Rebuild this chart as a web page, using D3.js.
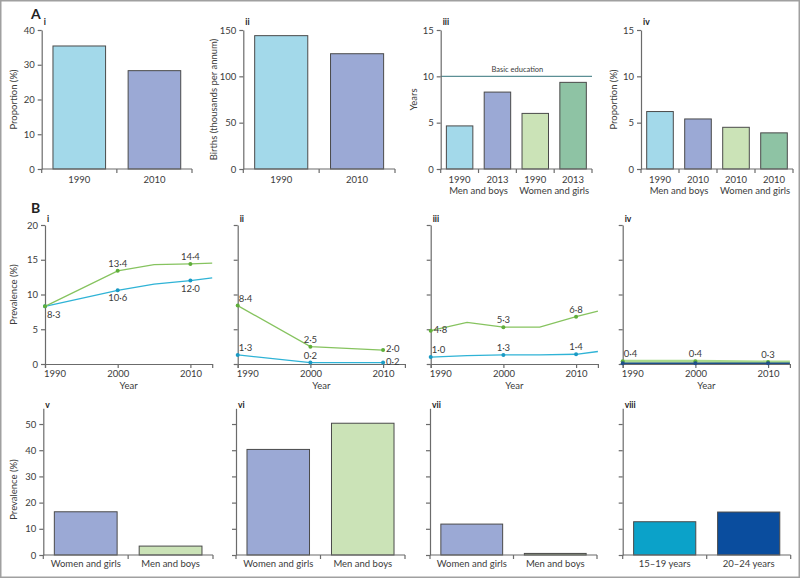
<!DOCTYPE html>
<html>
<head>
<meta charset="utf-8">
<script src="https://cdn.jsdelivr.net/npm/d3@7"></script>
<style>
body { margin: 0; background: #fff; }
text { font-family: Lato, "Open Sans", sans-serif; fill: #3b3b3b; }
</style>
</head>
<body>
<script>
// ---- panel A data
var aiYears = ["1990", "2010"];
var aiValues = [35.4, 28.3];
var aiiYears = ["1990", "2010"];
var aiiValues = [143.9, 124.4];
var aiiiYears = ["1990", "2013", "1990", "2013"];
var aiiiValues = [4.65, 8.3, 6.0, 9.35];
var aivYears = ["1990", "2010", "2010", "2010"];
var aivValues = [6.2, 5.4, 4.5, 3.9];
var sexGroups = ["Men and boys", "Women and girls"];
var basicEducation = 10;

// ---- panel B line data
var lineTicks = [1990, 2000, 2010];
var markerYears = [1990, 2000, 2010];
var biGreenYears = [1990, 2000, 2005, 2010, 2013];
var biGreen = [8.3, 13.4, 14.3, 14.4, 14.5];
var biBlueYears = [1990, 2000, 2005, 2010, 2013];
var biBlue = [8.3, 10.6, 11.5, 12.0, 12.4];
var biiYears = [1990, 2000, 2010];
var biiGreen = [8.4, 2.5, 2.0];
var biiBlue = [1.3, 0.2, 0.2];
var biiiYears = [1990, 1995, 2000, 2005, 2010, 2013];
var biiiGreen = [4.8, 6.0, 5.3, 5.3, 6.8, 7.6];
var biiiBlue = [1.0, 1.2, 1.3, 1.3, 1.4, 1.8];
var bivYears = [1990, 2000, 2010, 2013];
var bivGreen = [0.4, 0.4, 0.3, 0.3];
var bivBlue = [0.1, 0.1, 0.1, 0.1];

// ---- panel B bar data
var sexCats = ["Women and girls", "Men and boys"];
var bvValues = [16.5, 3.4];
var bviValues = [40.3, 50.3];
var bviiValues = [11.8, 0.6];
var ageCats = ["15–19 years", "20–24 years"];
var bviiiValues = [12.7, 16.4];

var cyanL = "#a3d9ea", lav = "#9ba9d5", greenL = "#cbe3b7", greenM = "#8ec3a4",
    cyanS = "#0ba2c9", navy = "#0a4d9e";
var axisCol = "#6b6b6b";

var svg = d3.select("body").append("svg")
    .attr("width", 800)
    .attr("height", 578);

svg.append("rect")
    .attr("x", 0.75).attr("y", 0.75)
    .attr("width", 798.5).attr("height", 576.5)
    .attr("fill", "none")
    .attr("stroke", "#a0a0a0")
    .attr("stroke-width", 1.5);

function styleAxis(sel) {
    sel.selectAll("path, line").attr("stroke", axisCol).attr("stroke-width", 1.2);
    sel.selectAll("text").attr("font-size", 9.5).attr("fill", "#3b3b3b")
        .style("font-family", "Lato, 'Open Sans', sans-serif");
}

function yLabel(g, txt, x, y) {
    g.append("text")
        .attr("transform", "translate(" + x + "," + y + ") rotate(-90)")
        .attr("text-anchor", "middle")
        .attr("font-size", 9.5)
        .text(txt);
}

function roman(g, txt, x, y) {
    g.append("text")
        .attr("x", x).attr("y", y)
        .attr("font-size", 8.5)
        .attr("font-weight", "bold")
        .style("fill", "#222")
        .text(txt);
}

function barPanel(c) {
    var g = svg.append("g");
    var n = c.values.length;
    var slot = d3.scaleBand().domain(d3.range(n)).range([c.x0, c.x1]);
    var y = d3.scaleLinear().domain(c.domain).range([c.y0, c.y1]);
    var bw = slot.bandwidth() * c.fill;

    if (c.basic != null) {
        g.append("line")
            .attr("x1", c.x0).attr("x2", c.x1)
            .attr("y1", y(c.basic)).attr("y2", y(c.basic))
            .attr("stroke", "#5b8f95").attr("stroke-width", 1.2);
        g.append("text")
            .attr("x", (c.x0 + c.x1) / 2 + 1).attr("y", y(c.basic) - 4)
            .attr("text-anchor", "middle").attr("font-size", 7.5)
            .text("Basic education");
    }

    g.selectAll("rect.bar")
        .data(c.values)
        .join("rect")
        .attr("class", "bar")
        .attr("x", function(d, i) { return slot(i) + (slot.bandwidth() - bw) / 2; })
        .attr("y", function(d) { return y(d); })
        .attr("width", bw)
        .attr("height", function(d) { return y(0) - y(d); })
        .attr("fill", function(d, i) { return c.colors[i]; })
        .attr("stroke", "#4a4a4a")
        .attr("stroke-width", 1);

    var ya = d3.axisLeft(y).tickValues(c.ticks).tickSize(4).tickSizeOuter(0).tickPadding(3);
    if (!c.tickLabels) ya.tickFormat("");
    g.append("g")
        .attr("transform", "translate(" + c.x0 + ",0)")
        .call(ya)
        .call(styleAxis);

    // x axis line with ticks at slot boundaries
    g.append("line")
        .attr("x1", c.x0).attr("x2", c.x1)
        .attr("y1", y(0)).attr("y2", y(0))
        .attr("stroke", axisCol).attr("stroke-width", 1.2);
    g.selectAll("line.bt")
        .data(d3.range(n + 1))
        .join("line")
        .attr("class", "bt")
        .attr("x1", function(i) { return c.x0 + i * slot.step(); })
        .attr("x2", function(i) { return c.x0 + i * slot.step(); })
        .attr("y1", y(0)).attr("y2", y(0) + 4)
        .attr("stroke", axisCol).attr("stroke-width", 1.2);

    g.selectAll("text.cat")
        .data(c.cats)
        .join("text")
        .attr("class", "cat")
        .attr("x", function(d, i) { return slot(i) + slot.bandwidth() / 2; })
        .attr("y", c.labelY)
        .attr("text-anchor", "middle")
        .attr("font-size", 9.5)
        .text(function(d) { return d; });

    if (c.groups) {
        g.selectAll("text.grp")
            .data(c.groups)
            .join("text")
            .attr("class", "grp")
            .attr("x", function(d, i) { return slot(i * 2 + 1); })
            .attr("y", c.labelY + 11.5)
            .attr("text-anchor", "middle")
            .attr("font-size", 9.5)
            .text(function(d) { return d; });
    }

    if (c.ylabel) yLabel(g, c.ylabel, c.ylabelX, (c.y0 + y(c.ticks[c.ticks.length - 1])) / 2);
    roman(g, c.roman, c.x0 + 2, c.romanY);
}

var fmt = d3.format(".1f");
function dotLabel(v) { return fmt(v).replace(".", "·"); }

function linePanel(c) {
    var g = svg.append("g");
    var x = d3.scaleLinear().domain([1990, 2013]).range([c.x0, c.x0 + 167.2]);
    var y = d3.scaleLinear().domain([0, 20]).range([364, 225]);

    var ya = d3.axisLeft(y).tickValues([0, 5, 10, 15, 20]).tickSize(4).tickSizeOuter(0).tickPadding(3);
    if (!c.tickLabels) ya.tickFormat("");
    g.append("g")
        .attr("transform", "translate(" + c.x0 + ",0)")
        .call(ya)
        .call(styleAxis);

    var xa = d3.axisBottom(x).tickValues(lineTicks).tickSize(4).tickSizeOuter(4)
        .tickFormat(d3.format("d")).tickPadding(2);
    var xg = g.append("g")
        .attr("transform", "translate(0,364)")
        .call(xa)
        .call(styleAxis);
    xg.selectAll(".tick text")
        .filter(function(d) { return d === 1990; })
        .attr("text-anchor", "start")
        .attr("dx", -1.5);

    g.append("text")
        .attr("x", c.x0 + 167.2 / 2).attr("y", 389)
        .attr("text-anchor", "middle").attr("font-size", 9.5)
        .text("Year");

    var line = d3.line()
        .x(function(d) { return x(d[0]); })
        .y(function(d) { return y(d[1]); });

    c.series.forEach(function(s) {
        var pts = s.years.map(function(yr, i) { return [yr, s.values[i]]; });
        g.append("path")
            .datum(pts)
            .attr("d", line)
            .attr("fill", "none")
            .attr("stroke", s.color)
            .attr("stroke-width", s.width || 1.3);
        var marks = pts.filter(function(d) { return markerYears.indexOf(d[0]) >= 0; });
        g.selectAll(null)
            .data(marks)
            .join("circle")
            .attr("cx", function(d) { return x(d[0]); })
            .attr("cy", function(d) { return y(d[1]); })
            .attr("r", 2)
            .attr("fill", s.dot);
        g.selectAll(null)
            .data(marks)
            .join("text")
            .filter(function(d, i) { return s.place[i] !== ""; })
            .each(function(d) {
                var p = s.place[marks.indexOf(d)];
                var t = d3.select(this);
                var px = x(d[0]), py = y(d[1]);
                var dx = 0, dy = -4, anchor = "middle";
                if (p === "b") { dy = 11; }
                if (p === "ar") { anchor = "start"; dx = 1; dy = -4; }
                if (p === "br") { anchor = "start"; dx = 2; dy = 12; }
                if (p === "r") { anchor = "start"; dx = 3; dy = 2; }
                t.attr("x", px + dx).attr("y", py + dy)
                    .attr("text-anchor", anchor)
                    .attr("font-size", 9.5)
                    .text(dotLabel(d[1]));
            });
    });

    if (c.ylabel) yLabel(g, c.ylabel, c.ylabelX, 294.5);
    roman(g, c.roman, c.x0 + 2, 222);
}

// ---- row A
var aY = { y0: 169, y1: 30, labelY: 182.7, romanY: 25, fill: 0.7 };
barPanel(Object.assign({}, aY, { x0: 41.7, x1: 192, domain: [0, 40], ticks: [0, 10, 20, 30, 40],
    tickLabels: true, cats: aiYears, values: aiValues, colors: [cyanL, lav], roman: "i",
    ylabel: "Proportion (%)", ylabelX: 17 }));
barPanel(Object.assign({}, aY, { x0: 243.3, x1: 395, domain: [0, 150], ticks: [0, 50, 100, 150],
    tickLabels: true, cats: aiiYears, values: aiiValues, colors: [cyanL, lav], roman: "ii",
    ylabel: "Births (thousands per annum)", ylabelX: 217 }));
barPanel(Object.assign({}, aY, { x0: 440.7, x1: 592, domain: [0, 15], ticks: [0, 5, 10, 15],
    tickLabels: true, cats: aiiiYears, values: aiiiValues, colors: [cyanL, lav, greenL, greenM],
    groups: sexGroups, basic: basicEducation, roman: "iii", ylabel: "Years", ylabelX: 417 }));
barPanel(Object.assign({}, aY, { x0: 641, x1: 793, domain: [0, 15], ticks: [0, 5, 10, 15],
    tickLabels: true, cats: aivYears, values: aivValues, colors: [cyanL, lav, greenL, greenM],
    groups: sexGroups, roman: "iv", ylabel: "Proportion (%)", ylabelX: 617 }));

svg.append("text").attr("x", 31).attr("y", 19).attr("font-size", 14).attr("font-weight", "bold")
    .style("fill", "#222").text("A");
svg.append("text").attr("x", 31).attr("y", 213).attr("font-size", 14).attr("font-weight", "bold")
    .style("fill", "#222").text("B");

// ---- row B lines
var green = "#86c35f", greenDot = "#5fae3a", blue = "#2fb3d6", blueDot = "#1a9ac4";
linePanel({ x0: 45, tickLabels: true, roman: "i", ylabel: "Prevalence (%)", ylabelX: 17,
    series: [
        { years: biBlueYears, values: biBlue, color: blue, dot: blueDot, place: ["br", "b", "b"] },
        { years: biGreenYears, values: biGreen, color: green, dot: greenDot, place: ["", "a", "a"] }
    ] });
linePanel({ x0: 237.7, tickLabels: false, roman: "ii",
    series: [
        { years: biiYears, values: biiBlue, color: blue, dot: blueDot, place: ["ar", "a", "r"] },
        { years: biiYears, values: biiGreen, color: green, dot: greenDot, place: ["ar", "a", "r"] }
    ] });
linePanel({ x0: 430.7, tickLabels: false, roman: "iii",
    series: [
        { years: biiiYears, values: biiiBlue, color: blue, dot: blueDot, place: ["ar", "a", "a"] },
        { years: biiiYears, values: biiiGreen, color: green, dot: greenDot, place: ["r", "a", "a"] }
    ] });
linePanel({ x0: 622.7, tickLabels: false, roman: "iv",
    series: [
        { years: bivYears, values: bivGreen, color: "#a9d98c", dot: greenDot, width: 3, place: ["ar", "a", "a"] },
        { years: bivYears, values: bivBlue, color: "#1f4f8a", dot: "#1f4f8a", width: 1.5, place: ["", "", ""] }
    ] });

// ---- row B bars
var bY = { y0: 555, y1: 408.3, domain: [0, 56], ticks: [0, 10, 20, 30, 40, 50], labelY: 567, romanY: 408, fill: 0.74 };
barPanel(Object.assign({}, bY, { x0: 43.3, x1: 213, tickLabels: true, cats: sexCats, values: bvValues,
    colors: [lav, greenL], roman: "v", ylabel: "Prevalence (%)", ylabelX: 17 }));
barPanel(Object.assign({}, bY, { x0: 236, x1: 405, tickLabels: false, cats: sexCats, values: bviValues,
    colors: [lav, greenL], roman: "vi" }));
barPanel(Object.assign({}, bY, { x0: 430, x1: 597, tickLabels: false, cats: sexCats, values: bviiValues,
    colors: [lav, "#b5cfa0"], roman: "vii" }));
barPanel(Object.assign({}, bY, { x0: 622.7, x1: 790.7, tickLabels: false, cats: ageCats, values: bviiiValues,
    colors: [cyanS, navy], roman: "viii" }));
</script>
</body>
</html>
